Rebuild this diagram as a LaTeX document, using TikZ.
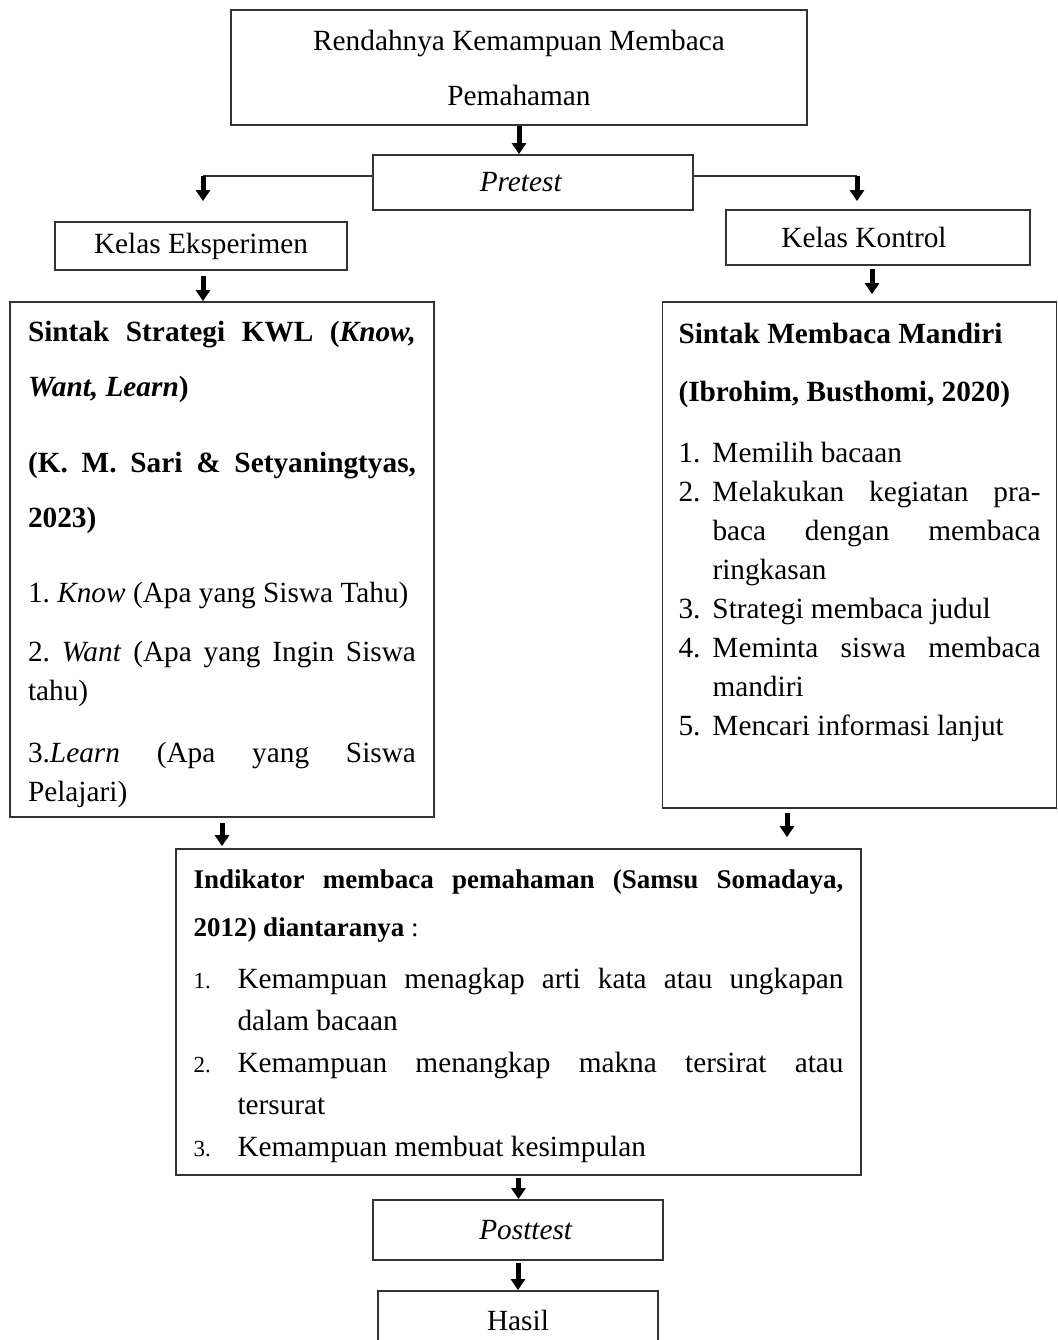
\documentclass[tikz,border=0pt]{standalone}
\usepackage{fontspec}
\setmainfont{Liberation Serif}
\usetikzlibrary{arrows.meta}
\newcommand{\bodyfont}{\fontsize{14.65pt}{19.5pt}\selectfont}
\newcommand{\numline}[3]{\noindent\hangindent=#1\hangafter=1\makebox[#1][l]{#2}#3\par}
\newcommand{\firstbase}[1]{\hbox{}\vspace{#1}}
\newcommand{\smallnum}[1]{{\fontsize{11.5pt}{11.5pt}\selectfont #1}}
\frenchspacing
\begin{document}
\begin{tikzpicture}[x=0.5pt,y=-0.5pt,
  box/.style={draw=black!80, line width=0.9pt, inner sep=0pt, align=center, font=\bodyfont},
  arr/.style={-{Triangle[width=7pt,length=5.5pt]}, line width=2.5pt},
  link/.style={draw=black!80, line width=0.9pt}]
\useasboundingbox (0,0) rectangle (1057,1340);
\node[box, minimum width=288pt, minimum height=57.5pt, font=\fontsize{14.65pt}{27.5pt}\selectfont] (masalah) at (519,67.5) {Rendahnya Kemampuan Membaca\\Pemahaman};
\node[box, minimum width=160pt, minimum height=27.5pt] (pretest) at (533,182.5) {\textit{Pretest}\hspace{12pt}};
\node[box, minimum width=146pt, minimum height=24pt] (eksperimen) at (201,246) {Kelas Eksperimen};
\node[box, minimum width=152pt, minimum height=27.5pt] (kontrol) at (878,237.5) {Kelas Kontrol\hspace{14pt}};
\node[box, inner xsep=9pt, align=left] (kwl) at (222,559.5) {\parbox[c][257.5pt][t]{194pt}{\firstbase{-8pt}
{\bfseries\baselineskip=27.5pt Sintak Strategi KWL (\textit{Know,}\linebreak \textit{Want, Learn})\par}
\vspace{10.5pt}
{\bfseries\baselineskip=27.5pt (K. M. Sari \& Setyaningtyas,\linebreak 2023)\par}
\vspace{18pt}
1. \textit{Know} (Apa yang Siswa Tahu)\par
\vspace{10pt}
2. \textit{Want} (Apa yang Ingin Siswa\linebreak tahu)\par
\vspace{11.5pt}
3.\textit{Learn} (Apa yang Siswa\linebreak Pelajari)\par}};
\node[box, inner xsep=8pt, align=left] (mandiri) at (859.5,555) {\parbox[c][253pt][t]{181pt}{\firstbase{-8.5pt}
{\bfseries\baselineskip=29pt Sintak Membaca Mandiri\\(Ibrohim, Busthomi, 2020)\par}
\vspace{11pt}
\numline{17pt}{1.}{Memilih bacaan}
\numline{17pt}{2.}{Melakukan kegiatan pra-\linebreak baca dengan membaca\linebreak ringkasan}
\numline{17pt}{3.}{Strategi membaca judul}
\numline{17pt}{4.}{Meminta siswa membaca\linebreak mandiri}
\numline{17pt}{5.}{Mencari informasi lanjut}}};
\node[box, inner xsep=8.75pt, align=left] (indikator) at (518.5,1012) {\parbox[c][163pt][t]{325pt}{\firstbase{-4.5pt}
{\bfseries\fontsize{13.5pt}{24pt}\selectfont Indikator membaca pemahaman (Samsu Somadaya,\linebreak 2012) diantaranya \mdseries :\par}
\vspace{5pt}
{\baselineskip=21pt
\numline{22pt}{\smallnum{1.}}{Kemampuan menagkap arti kata atau ungkapan\linebreak dalam bacaan}
\numline{22pt}{\smallnum{2.}}{Kemampuan menangkap makna tersirat atau\linebreak tersurat}
\numline{22pt}{\smallnum{3.}}{Kemampuan membuat kesimpulan}}}};
\node[box, minimum width=145pt, minimum height=30pt] (posttest) at (518,1230) {\hspace{8pt}\textit{Posttest}};
\node[box, minimum width=140pt, minimum height=29.5pt] (hasil) at (518,1320.5) {Hasil};
\coordinate (kiri) at (203,176);
\coordinate (kanan) at (857,176);
\draw[arr] (masalah.south) -- (masalah.south |- pretest.north);
\draw[link] (pretest.west |- kiri) -- (kiri);
\draw[arr, shorten >=10pt] (kiri) -- (kiri |- eksperimen.north);
\draw[link] (pretest.east |- kanan) -- (kanan);
\draw[arr, shorten >=4pt] (kanan) -- (kanan |- kontrol.north);
\draw[arr, shorten <=2.5pt] ([xshift=1pt]eksperimen.south) -- ([xshift=1pt]eksperimen.south |- kwl.north);
\draw[arr, shorten <=1.5pt, shorten >=3.5pt] ([xshift=-3pt]kontrol.south) -- ([xshift=-3pt]kontrol.south |- mandiri.north);
\draw[arr, shorten <=2.5pt, shorten >=1pt] (kwl.south) -- (kwl.south |- indikator.north);
\draw[arr, shorten <=2pt, shorten >=5.5pt] ([xshift=-36.25pt]mandiri.south) -- ([xshift=-36.25pt]mandiri.south |- indikator.north);
\draw[arr, shorten <=1pt] (indikator.south) -- (indikator.south |- posttest.north);
\draw[arr, shorten <=1pt] (posttest.south) -- (posttest.south |- hasil.north);
\end{tikzpicture}
\end{document}
